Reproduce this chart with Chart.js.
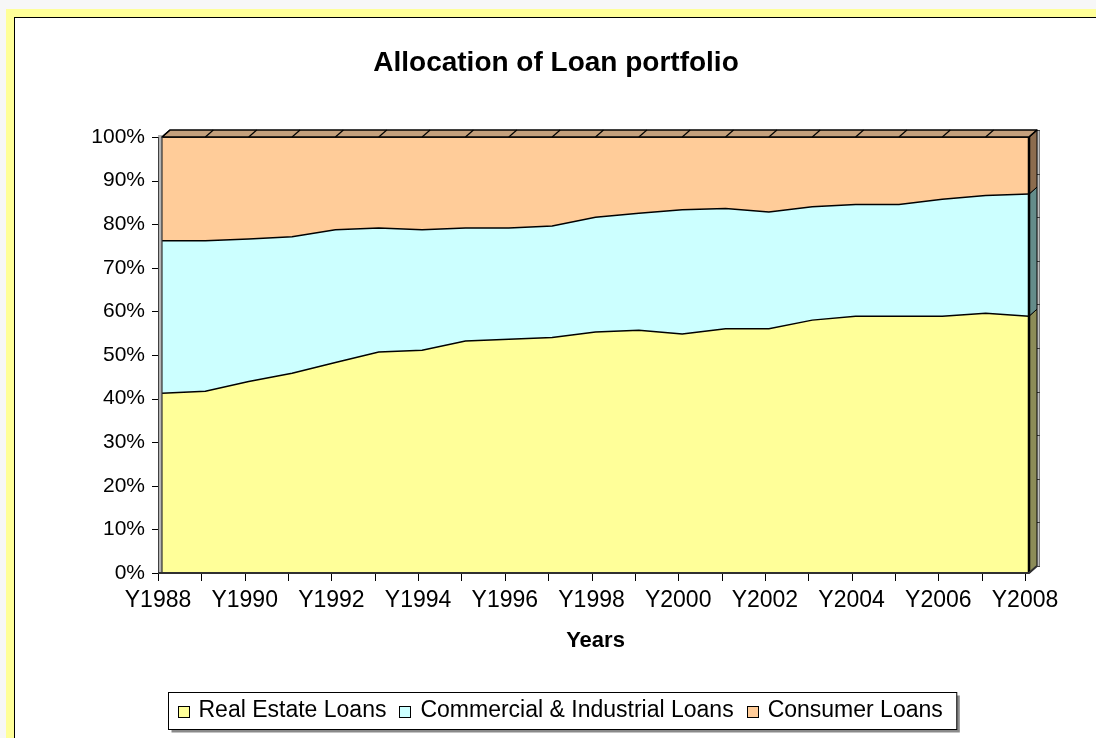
<!DOCTYPE html>
<html>
<head>
<meta charset="utf-8">
<script src="https://cdn.jsdelivr.net/npm/chart.js@4/dist/chart.umd.min.js"></script>
<style>
    body { margin: 0; background: #f7f7f7; overflow: hidden; }
    #frame { position: absolute; left: 6px; top: 9px; width: 1200px; height: 900px; background: #ffff99; }
    #panel { position: absolute; left: 14px; top: 17px; width: 1200px; height: 900px; background: #fff; border-left: 1px solid #000; border-top: 1px solid #000; }
    #chart { position: absolute; left: 0; top: 0; }
</style>
</head>
<body>
<div id="frame"></div>
<div id="panel"></div>
<canvas id="chart" width="1096" height="738"></canvas>
<script>
// datos (% de la cartera)
const categories = ['Y1988', 'Y1989', 'Y1990', 'Y1991', 'Y1992', 'Y1993', 'Y1994', 'Y1995', 'Y1996', 'Y1997', 'Y1998',
    'Y1999', 'Y2000', 'Y2001', 'Y2002', 'Y2003', 'Y2004', 'Y2005', 'Y2006', 'Y2007', 'Y2008'];
const realEstate = [41.2, 41.7, 43.9, 45.8, 48.3, 50.7, 51.1, 53.2, 53.6, 54.0, 55.3, 55.7, 54.8, 56.0, 56.0, 58.0, 58.9, 58.9, 58.9, 59.6, 58.9];
const commercial = [35.0, 34.5, 32.7, 31.3, 30.4, 28.4, 27.6, 25.9, 25.5, 25.6, 26.3, 26.8, 28.5, 27.6, 26.8, 26.0, 25.6, 25.6, 26.8, 27.0, 28.0];
const consumer = [23.8, 23.8, 23.4, 22.9, 21.3, 20.9, 21.3, 20.9, 20.9, 20.4, 18.4, 17.5, 16.7, 16.4, 17.2, 16.0, 15.5, 15.5, 14.3, 13.4, 13.1];
const yTicks = [0, 10, 20, 30, 40, 50, 60, 70, 80, 90, 100];

const seriesNames = ['Real Estate Loans', 'Commercial & Industrial Loans', 'Consumer Loans'];
const fills = ['#ffff99', '#ccffff', '#ffcc99'];
const sides = ['#8c8c58', '#648c8a', '#8c6c4e'];
const FONT = '"Liberation Sans", Arial, sans-serif';
const DX = 8, DY = -7; // profundidad 3D

// Paredes, caras laterales, ejes, titulo y leyenda
const excel3d = {
    id: 'excel3d',
    beforeDatasetsDraw(chart) {
        const ctx = chart.ctx;
        const a = chart.chartArea;
        const y = chart.scales.y;
        ctx.save();
        // pared derecha (fondo)
        ctx.fillStyle = '#c0c0c0';
        ctx.fillRect(a.right + DX - 2, a.top + DY, 5, a.bottom - a.top);
        ctx.strokeStyle = '#808080';
        ctx.lineWidth = 1;
        ctx.strokeRect(a.right + DX - 1.5, a.top + DY + 0.5, 4, a.bottom - a.top);
        ctx.strokeStyle = '#404040';
        yTicks.forEach(v => {
            const py = Math.round(y.getPixelForValue(v) + DY) + 0.5;
            ctx.beginPath();
            ctx.moveTo(a.right + DX, py);
            ctx.lineTo(a.right + DX + 3, py);
            ctx.stroke();
        });
        // pared izquierda
        ctx.fillStyle = '#b4b4b4';
        ctx.fillRect(a.left - 4, a.top - 2, 4, a.bottom - a.top + 3);
        ctx.strokeStyle = '#404040';
        ctx.beginPath();
        ctx.moveTo(a.left - 3.5, a.top);
        ctx.lineTo(a.left - 3.5, a.bottom + 1);
        ctx.stroke();
        ctx.restore();
    },
    afterDatasetsDraw(chart) {
        const ctx = chart.ctx;
        const a = chart.chartArea;
        const x = chart.scales.x;
        const y = chart.scales.y;
        const last = categories.length - 1;
        ctx.save();
        ctx.lineJoin = 'round';
        // caras laterales derechas
        const layers = [realEstate, commercial, consumer];
        let base = 0;
        layers.forEach((arr, k) => {
            const top = base + arr[last];
            const yb = y.getPixelForValue(base);
            const yt = y.getPixelForValue(top);
            ctx.beginPath();
            ctx.moveTo(a.right, yb);
            ctx.lineTo(a.right + DX, yb + DY);
            ctx.lineTo(a.right + DX, yt + DY);
            ctx.lineTo(a.right, yt);
            ctx.closePath();
            ctx.fillStyle = sides[k];
            ctx.fill();
            ctx.strokeStyle = '#000';
            ctx.lineWidth = 1;
            ctx.stroke();
            base = top;
        });
        // cara superior
        ctx.beginPath();
        ctx.moveTo(a.left, a.top);
        ctx.lineTo(a.right, a.top);
        ctx.lineTo(a.right + DX, a.top + DY);
        ctx.lineTo(a.left + DX, a.top + DY);
        ctx.closePath();
        ctx.fillStyle = '#c4a07c';
        ctx.fill();
        ctx.strokeStyle = '#000';
        ctx.lineWidth = 1.5;
        ctx.stroke();
        ctx.lineWidth = 1.2;
        categories.forEach((c, i) => {
            const px = x.getPixelForValue(i);
            ctx.beginPath();
            ctx.moveTo(px, a.top);
            ctx.lineTo(px + DX, a.top + DY);
            ctx.stroke();
        });
        // bordes de la cara frontal
        ctx.strokeStyle = '#000';
        ctx.lineWidth = 2.5;
        ctx.beginPath();
        ctx.moveTo(a.right, a.top);
        ctx.lineTo(a.right, a.bottom);
        ctx.stroke();
        ctx.strokeStyle = '#303030';
        ctx.lineWidth = 2;
        ctx.beginPath();
        ctx.moveTo(a.left - 4, a.bottom);
        ctx.lineTo(a.right, a.bottom);
        ctx.lineTo(a.right + DX, a.bottom + DY);
        ctx.stroke();
        ctx.lineWidth = 1.2;
        ctx.beginPath();
        ctx.moveTo(a.left, a.top);
        ctx.lineTo(a.left, a.bottom);
        ctx.stroke();
        // marcas de los ejes
        ctx.strokeStyle = '#000';
        ctx.lineWidth = 1;
        yTicks.forEach(v => {
            const py = Math.round(y.getPixelForValue(v)) + 0.5;
            ctx.beginPath();
            ctx.moveTo(a.left - 10, py);
            ctx.lineTo(a.left - 4, py);
            ctx.stroke();
        });
        categories.forEach((c, i) => {
            const px = Math.round(x.getPixelForValue(i) - 4) + 0.5;
            ctx.beginPath();
            ctx.moveTo(px, a.bottom + 1);
            ctx.lineTo(px, a.bottom + 8);
            ctx.stroke();
        });
        ctx.restore();
    },
    afterDraw(chart) {
        const ctx = chart.ctx;
        ctx.save();
        // titulo
        ctx.fillStyle = '#000';
        ctx.font = 'bold 28px ' + FONT;
        ctx.textAlign = 'center';
        ctx.textBaseline = 'middle';
        ctx.fillText('Allocation of Loan portfolio', 556, 63);
        // leyenda
        ctx.font = '23px ' + FONT;
        const widths = seriesNames.map(n => ctx.measureText(n).width);
        const inner = widths.reduce((s, w) => s + 21 + w, 0) + 13 * (seriesNames.length - 1);
        const boxL = 168.5, boxT = 692.5, boxH = 37;
        const boxW = inner + 23;
        ctx.fillStyle = '#8a8a8a';
        ctx.fillRect(boxL + 3, boxT + 3, boxW, boxH);
        ctx.fillStyle = '#fff';
        ctx.fillRect(boxL, boxT, boxW, boxH);
        ctx.strokeStyle = '#000';
        ctx.lineWidth = 1;
        ctx.strokeRect(boxL, boxT, boxW, boxH);
        let cx = boxL + 9;
        ctx.textAlign = 'left';
        ctx.textBaseline = 'alphabetic';
        seriesNames.forEach((n, k) => {
            ctx.fillStyle = fills[k];
            ctx.fillRect(Math.round(cx) + 0.5, 706.5, 11, 11);
            ctx.strokeStyle = '#000';
            ctx.strokeRect(Math.round(cx) + 0.5, 706.5, 11, 11);
            ctx.fillStyle = '#000';
            ctx.fillText(n, cx + 21, 717);
            cx += 21 + widths[k] + 13;
        });
        ctx.restore();
    }
};

const ctx = document.getElementById('chart').getContext('2d');
const chart = new Chart(ctx, {
    type: 'line',
    data: {
        labels: categories,
        datasets: [{
            label: seriesNames[0],
            data: realEstate,
            backgroundColor: fills[0],
            borderColor: '#000',
            borderWidth: 1.5,
            fill: 'origin'
        }, {
            label: seriesNames[1],
            data: commercial,
            backgroundColor: fills[1],
            borderColor: '#000',
            borderWidth: 1.5,
            fill: '-1'
        }, {
            label: seriesNames[2],
            data: consumer,
            backgroundColor: fills[2],
            borderColor: '#000',
            borderWidth: 1.5,
            fill: '-1'
        }]
    },
    options: {
        responsive: false,
        animation: false,
        layout: {
            padding: { top: 137, right: 67, left: 0, bottom: 0 }
        },
        elements: {
            point: { radius: 0, hoverRadius: 0 },
            line: { tension: 0 }
        },
        plugins: {
            legend: { display: false },
            tooltip: { enabled: false },
            title: { display: false }
        },
        scales: {
            x: {
                offset: false,
                grid: { display: false, drawTicks: false },
                border: { display: false },
                ticks: {
                    autoSkip: false,
                    maxRotation: 0,
                    labelOffset: -4,
                    padding: 14,
                    color: '#000',
                    font: { size: 23, family: FONT },
                    callback: function (value, index) {
                        return index % 2 === 0 ? this.getLabelForValue(value) : '';
                    }
                },
                title: {
                    display: true,
                    text: 'Years',
                    color: '#000',
                    font: { size: 22, weight: 'bold', family: FONT },
                    padding: { top: 0, bottom: 84 }
                },
                afterFit: (scale) => { scale.height = 165; }
            },
            y: {
                stacked: true,
                min: 0,
                max: 100,
                grid: { display: false, drawTicks: false },
                border: { display: false },
                afterBuildTicks: (scale) => { scale.ticks = yTicks.map(v => ({ value: v })); },
                ticks: {
                    padding: 17,
                    color: '#000',
                    font: { size: 21, family: FONT },
                    callback: (value) => value + '%'
                },
                afterFit: (scale) => { scale.width = 162; }
            }
        }
    },
    plugins: [excel3d]
});
</script>
</body>
</html>
